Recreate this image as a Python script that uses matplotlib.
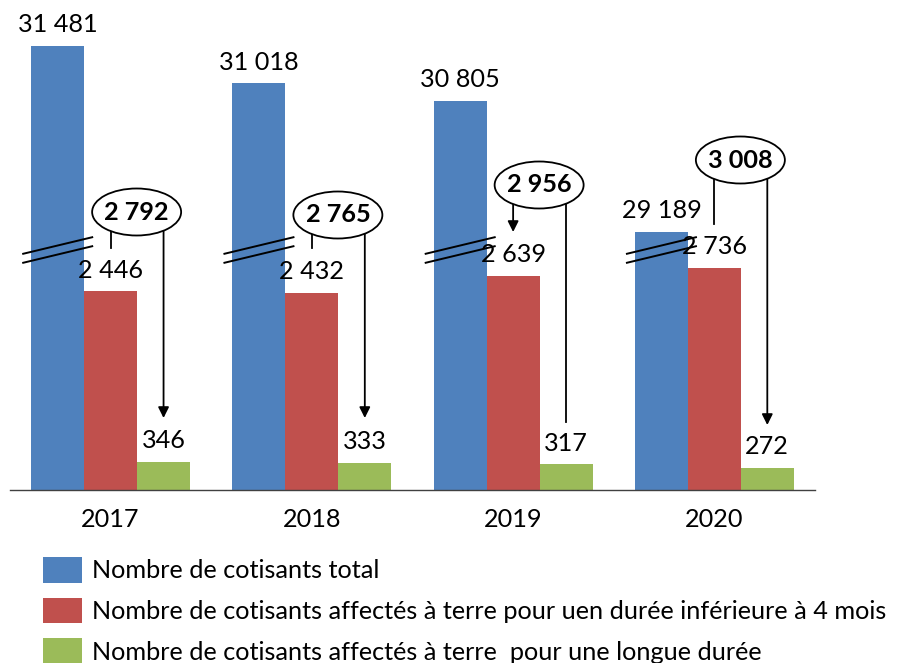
import matplotlib
matplotlib.use("Agg")
import matplotlib.pyplot as plt
from matplotlib.patches import Ellipse
import numpy as np

plt.rcParams['font.family'] = ['Lato', 'DejaVu Sans']

years = ['2017', '2018', '2019', '2020']
total = [31481, 31018, 30805, 29189]
short_term = [2446, 2432, 2639, 2736]
long_term = [346, 333, 317, 272]
sums = [2792, 2765, 2956, 3008]
labels = ['Nombre de cotisants total',
          'Nombre de cotisants affectés à terre pour uen durée inférieure à 4 mois',
          'Nombre de cotisants affectés à terre  pour une longue durée']

# axis break: amount removed from the total bars
break_offset = 26010

c_blue, c_red, c_green = '#4F81BD', '#C0504D', '#9BBB59'

W, H = 898, 663
fig = plt.figure(figsize=(W / 100, H / 100), dpi=100)
px_per_unit = 0.0812
ax_top_px, base_px, left_px, right_px = 10, 490, 10, 815
ax = fig.add_axes([left_px / W, (H - base_px) / H, (right_px - left_px) / W,
                   (base_px - ax_top_px) / H])
ax.set_xlim(-0.5, 3.5)
ax.set_ylim(0, (base_px - ax_top_px) / px_per_unit)

x = np.arange(len(years))
bw = 0.263
shown_total = [v - break_offset for v in total]
ax.bar(x - bw, shown_total, bw, color=c_blue, label=labels[0], zorder=2)
ax.bar(x, short_term, bw, color=c_red, label=labels[1], zorder=2)
ax.bar(x + bw, long_term, bw, color=c_green, label=labels[2], zorder=2)

def fmt(v):
    return f"{v:,}".replace(",", "\u00a0")

fs = 18.2
lab_off = 21 / px_per_unit  # label gap above bar
for i in range(len(years)):
    ax.text(x[i] - bw, shown_total[i] + lab_off, fmt(total[i]), ha='center',
            va='center', fontsize=fs, zorder=5)
    ax.text(x[i], short_term[i] + lab_off, fmt(short_term[i]), ha='center',
            va='center', fontsize=fs, zorder=5)
    ax.text(x[i] + bw, long_term[i] + lab_off, fmt(long_term[i]), ha='center',
            va='center', fontsize=fs, zorder=5)

# break marks (double slash) across blue bars
ext = 9 / 201.25
y_lo = (base_px - 254) / px_per_unit
y_hi = (base_px - 237) / px_per_unit
gap = 9 / px_per_unit
for i in range(len(years)):
    xa = x[i] - 1.5 * bw - ext
    xb = x[i] - 0.5 * bw + ext
    for d in (0, -gap):
        ax.plot([xa, xb], [y_lo + d, y_hi + d], color='black', lw=1.4,
                zorder=4, solid_capstyle='butt')

# callouts
call_y = [(base_px - p) / px_per_unit for p in (212, 215, 185, 160)]
left_end = [(base_px - p) / px_per_unit for p in (248, 248, 232, 224)]
right_end = [(base_px - p) / px_per_unit for p in (418, 418, 422, 425)]
left_arrow = [False, False, True, False]
right_arrow = [True, True, False, True]
ell_w = 89 / 201.25
ell_h = 47 / px_per_unit
for i in range(len(years)):
    cx = x[i] + 26 / 201.25
    cy = call_y[i]
    ax.add_patch(Ellipse((cx, cy), ell_w, ell_h, facecolor='white',
                         edgecolor='black', lw=1.3, zorder=7))
    ax.text(cx, cy, fmt(sums[i]), ha='center', va='center', fontsize=fs,
            fontweight='bold', zorder=8)
    for xx, yend, arr in ((x[i], left_end[i], left_arrow[i]),
                          (x[i] + bw, right_end[i], right_arrow[i])):
        if arr:
            ax.annotate('', xy=(xx, yend), xytext=(xx, cy),
                        arrowprops=dict(arrowstyle='-|>', color='black',
                                        lw=1.3, mutation_scale=16,
                                        shrinkA=0, shrinkB=0), zorder=6)
        else:
            ax.plot([xx, xx], [cy, yend], color='black', lw=1.3, zorder=6)

for s in ['top', 'right', 'left']:
    ax.spines[s].set_visible(False)
ax.spines['bottom'].set_color('#404040')
ax.spines['bottom'].set_linewidth(1.0)
ax.set_yticks([])
ax.set_xticks(x)
ax.set_xticklabels(years, fontsize=fs)
ax.tick_params(axis='x', length=0, pad=13)

leg = fig.legend(loc='upper left', bbox_to_anchor=(43 / W, 1 - 557 / H),
                 frameon=False, fontsize=fs, handlelength=1.55,
                 handleheight=1.2, handletextpad=0.4, labelspacing=0.58,
                 borderaxespad=0, borderpad=0)

fig.savefig('out.png', dpi=100)
